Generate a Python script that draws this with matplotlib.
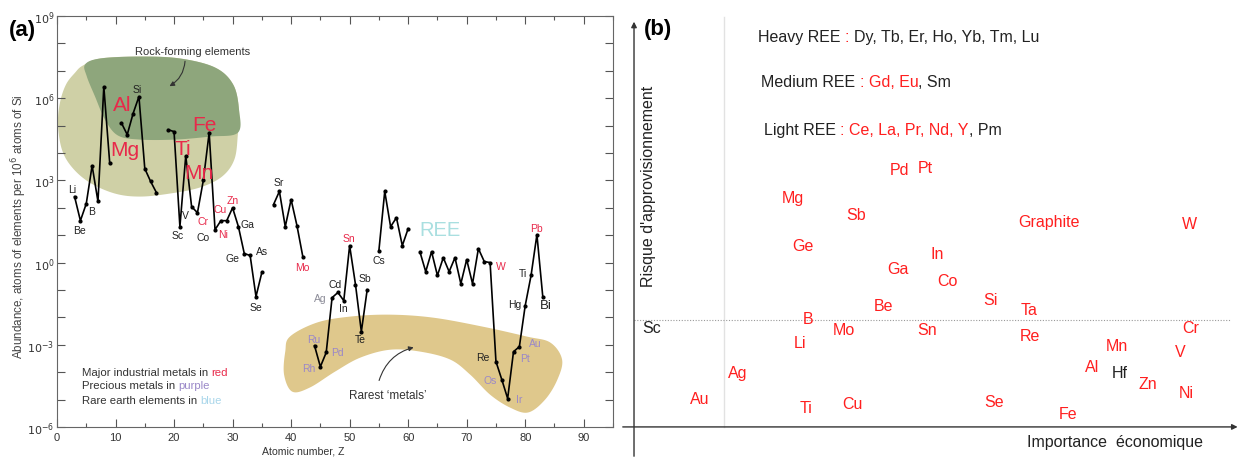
import numpy as np
import matplotlib
matplotlib.use("Agg")
import matplotlib.pyplot as plt
from matplotlib.patches import Polygon
from matplotlib.ticker import FixedLocator, FixedFormatter, NullFormatter

plt.rcParams['font.family'] = ['Liberation Sans', 'DejaVu Sans']

# ---------------- panel (a): crustal abundance vs atomic number ----------------
atomic_number = list(range(3, 84))
# log10 abundance (atoms per 1e6 atoms of Si); None = element not plotted
log_abundance = [
    2.41, 1.53, 2.15, 3.54, 2.23, 6.42, 3.65, None,           # Li .. Ne
    5.10, 4.67, 5.44, 6.06, 3.43, 2.96, 2.55, None,           # Na .. Ar
    4.85, 4.78, 1.31, 3.90, 2.04, 1.82, 3.00, 4.74, 1.20,     # K .. Co
    1.53, 1.53, 2.00, 1.31, 0.33, 0.26, -1.24, -0.36, None,   # Ni .. Kr
    2.12, 2.60, 1.31, 2.30, 1.35, 0.22, None, -3.03, -3.80,   # Rb .. Rh
    -3.28, -1.28, -1.09, -1.39, 0.62, -0.80, -2.52, -0.99,    # Pd .. I
    None, 0.44, 2.60, 1.31, 1.64, 0.62, 1.24, None,           # Xe .. Pm
    0.40, -0.33, 0.40, -0.47, 0.18, -0.33, 0.18, -0.77,       # Sm .. Tm
    0.11, -0.77, 0.51, 0.04, 0.00, -3.61, -4.27, -4.96,       # Yb .. Ir
    -3.25, -3.07, -1.57, -0.47, 1.02, -1.24,                  # Pt .. Bi
]

RED = '#e8294a'
PURPLE = '#9a88c8'
GREY = '#8c8c98'
BLK = '#222222'

# label: (Z, text, colour, dx px, dy px, size)
a_labels = [
    (3, 'Li', BLK, -2, 8, 7.5), (4, 'Be', BLK, -1, -9, 7.5), (5, 'B', BLK, 5, -7, 7.5),
    (14, 'Si', BLK, -2, 8, 7.5), (13, 'Al', RED, -11, 9, 15), (12, 'Mg', RED, -2, -15, 15),
    (26, 'Fe', RED, -5, 8, 15), (22, 'Ti', RED, -3, 7, 15), (25, 'Mn', RED, -4, 8, 15),
    (38, 'Sr', BLK, -1, 9, 7.5), (30, 'Zn', RED, 0, 8, 7.5), (29, 'Cu', RED, -7, 12, 7.5),
    (24, 'Cr', RED, 6, -8, 7.5), (23, 'V', BLK, -6, -8, 7.5), (31, 'Ga', BLK, 9, 3, 7.5),
    (21, 'Sc', BLK, -2, -8, 7.5), (27, 'Co', BLK, -12, -7, 7.5), (28, 'Ni', RED, 2, -13, 7.5),
    (32, 'Ge', BLK, -12, -4, 7.5), (33, 'As', BLK, 12, 4, 7.5), (34, 'Se', BLK, 0, -10, 7.5),
    (42, 'Mo', RED, 0, -10, 7.5), (50, 'Sn', RED, -1, 8, 7.5), (48, 'Cd', BLK, -3, 8, 7.5),
    (47, 'Ag', GREY, -12, 0, 7.5), (49, 'In', BLK, 0, -7, 7.5), (51, 'Sb', BLK, 9, 7, 7.5),
    (52, 'Te', BLK, -1, -7, 7.5), (55, 'Cs', BLK, 0, -9, 7.5), (44, 'Ru', PURPLE, -1, 7, 7.5),
    (45, 'Rh', PURPLE, -12, -1, 7.5), (46, 'Pd', PURPLE, 11, 0, 7.5), (74, 'W', RED, 11, -3, 7.5),
    (81, 'Ti', BLK, -8, 2, 7.5), (80, 'Hg', BLK, -10, 2, 7.5), (83, 'Bi', BLK, 3, -8, 9.5),
    (82, 'Pb', RED, 0, 7, 7.5), (75, 'Re', BLK, -13, 5, 7.5), (76, 'Os', PURPLE, -12, 0, 7.5),
    (78, 'Pt', PURPLE, 11, -6, 7.5), (79, 'Au', PURPLE, 16, 4, 7.5), (77, 'Ir', PURPLE, 12, 0, 7.5),
]

# outlines of the shaded groups (Z, log10 abundance)
rock_light_z = [4.4, 7.4, 14.2, 21.0, 27.0, 30.1, 31.1, 30.9, 30.3, 28.2, 24.4, 19.3,
                14.2, 9.9, 5.6, 2.6, 0.85, 0.17, 0.51, 1.54, 3.08]
rock_light_l = [7.19, 7.45, 7.52, 7.45, 7.12, 6.50, 5.58, 4.67, 3.76, 3.14, 2.74, 2.52,
                2.41, 2.52, 2.92, 3.47, 4.12, 5.04, 5.84, 6.50, 6.93]
rock_dark_z = [4.8, 7.4, 14.2, 21.0, 27.0, 30.1, 31.1, 30.9, 26.2, 20.2, 14.2, 10.4,
               8.2, 6.5, 5.1]
rock_dark_l = [7.23, 7.45, 7.52, 7.45, 7.12, 6.50, 5.58, 4.74, 4.60, 4.49, 4.49, 4.64,
               5.22, 6.06, 6.79]
rare_z = [39.8, 44.4, 50.1, 56.9, 64.3, 72.8, 80.3, 84.3, 86.3, 85.5, 83.4, 80.5, 77.4,
          74.0, 70.6, 67.2, 62.1, 56.9, 51.8, 47.5, 43.2, 40.2, 38.8, 39.0]
rare_l = [-2.70, -2.19, -1.97, -1.90, -2.01, -2.34, -2.70, -2.92, -3.54, -4.27, -5.0,
          -5.47, -5.29, -4.82, -4.09, -3.54, -3.25, -3.18, -3.47, -3.98, -4.56, -4.71,
          -4.09, -3.25]

# ---------------- panel (b): criticality matrix ----------------
b_elements = ['Pd', 'Pt', 'Mg', 'Sb', 'Graphite', 'W', 'Ge', 'In', 'Ga', 'Co', 'Be', 'Si',
              'Ta', 'B', 'Sc', 'Mo', 'Sn', 'Re', 'Cr', 'Li', 'Mn', 'V', 'Ag', 'Al', 'Hf',
              'Zn', 'Ni', 'Au', 'Ti', 'Cu', 'Se', 'Fe']
b_importance = [4.45, 4.88, 2.67, 3.72, 6.96, 9.31, 2.84, 5.08, 4.43, 5.25, 4.18, 5.97,
                6.63, 2.92, 0.30, 3.52, 4.92, 6.64, 9.33, 2.79, 8.10, 9.16, 1.74, 7.68,
                8.15, 8.62, 9.26, 1.11, 2.89, 3.66, 6.04, 7.28]
b_risk = [6.33, 6.38, 5.64, 5.22, 5.05, 5.00, 4.48, 4.26, 3.89, 3.60, 3.00, 3.15,
          2.88, 2.68, 2.44, 2.39, 2.39, 2.24, 2.46, 2.07, 2.00, 1.85, 1.35, 1.48,
          1.33, 1.08, 0.84, 0.71, 0.47, 0.57, 0.62, 0.34]
b_black = ['Sc', 'Hf']
risk_threshold = 2.64
importance_threshold = 1.51

RED_B = '#ff1f1f'


def smooth_closed(xs, ys, n=14):
    # closed Catmull-Rom outline through the given vertices
    p = np.column_stack([xs, ys])
    N = len(p)
    t = np.linspace(0, 1, n, endpoint=False)[:, None]
    out = []
    for i in range(N):
        p0, p1, p2, p3 = p[i - 1], p[i], p[(i + 1) % N], p[(i + 2) % N]
        out.append(0.5 * (2 * p1 + (-p0 + p2) * t + (2 * p0 - 5 * p1 + 4 * p2 - p3) * t ** 2
                          + (-p0 + 3 * p1 - 3 * p2 + p3) * t ** 3))
    out = np.vstack(out)
    out[:, 1] = 10 ** out[:, 1]
    return out


def color_text(ax, x, y, parts, fontsize):
    t = ax.text(x, y, parts[0][0], color=parts[0][1], fontsize=fontsize,
                ha='left', va='center')
    for s, c in parts[1:]:
        t = ax.annotate(s, xy=(1, 0), xycoords=t, color=c, fontsize=fontsize,
                        ha='left', va='bottom')
    return t


fig = plt.figure(figsize=(12.41, 4.6), dpi=100)

# ---- (a)
ax = fig.add_axes([57 / 1241, 32 / 460, 556 / 1241, 411 / 460])
ax.set_yscale('log')
ax.set_xlim(0, 95)
ax.set_ylim(1e-6, 1e9)

ax.add_patch(Polygon(smooth_closed(rock_light_z, rock_light_l), closed=True,
                     facecolor='#cfd0a6', edgecolor='none', zorder=1))
ax.add_patch(Polygon(smooth_closed(rock_dark_z, rock_dark_l), closed=True,
                     facecolor='#8ea67c', edgecolor='none', zorder=1))
ax.add_patch(Polygon(smooth_closed(rare_z, rare_l), closed=True,
                     facecolor='#dfc88c', edgecolor='none', zorder=1))

vals = np.array([np.nan if v is None else 10 ** v for v in log_abundance])
ax.plot(atomic_number, vals, color='black', lw=1.2, marker='o', ms=2, zorder=3)

for z, name, col, dx, dy, fs in a_labels:
    v = vals[atomic_number.index(z)]
    ax.annotate(name, xy=(z, v), xytext=(dx, dy), textcoords='offset pixels',
                ha='center', va='center', color=col, fontsize=fs, zorder=4)

ax.text(65.5, 10 ** 1.2, 'REE', color='#a9dfe0', fontsize=14.5, ha='center', va='center')
ax.text(23.1, 10 ** 7.74, 'Rock-forming elements', fontsize=8, color='#333',
        ha='center', va='center')
ax.annotate('', xy=(18.8, 10 ** 6.39), xytext=(21.9, 10 ** 7.45),
            arrowprops=dict(arrowstyle='-|>', color='#333', lw=0.8, mutation_scale=7,
                            connectionstyle='arc3,rad=-0.3'))
ax.text(56.6, 10 ** -4.85, 'Rarest \u2018metals\u2019', fontsize=8.5, color='#333',
        ha='center', va='center')
ax.annotate('', xy=(61.4, 10 ** -3.07), xytext=(54.9, 10 ** -4.4),
            arrowprops=dict(arrowstyle='-|>', color='#333', lw=0.8, mutation_scale=7,
                            connectionstyle='arc3,rad=-0.3'))

color_text(ax, 4.27, 10 ** -3.98, [('Major industrial metals in ', '#333'), ('red', RED)], 8.2)
color_text(ax, 4.27, 10 ** -4.48, [('Precious metals in ', '#333'), ('purple', PURPLE)], 8.2)
color_text(ax, 4.27, 10 ** -5.0, [('Rare earth elements in ', '#333'), ('blue', '#a9d6ea')], 8.2)

ax.xaxis.set_major_locator(FixedLocator(range(0, 100, 10)))
ax.xaxis.set_minor_locator(FixedLocator(range(5, 100, 10)))
major_y = [10.0 ** e for e in range(-6, 10, 3)]
ax.yaxis.set_major_locator(FixedLocator(major_y))
ax.yaxis.set_major_formatter(FixedFormatter([r'$10^{%d}$' % e for e in range(-6, 10, 3)]))
ax.yaxis.set_minor_locator(FixedLocator([10.0 ** e for e in range(-6, 10)]))
ax.yaxis.set_minor_formatter(NullFormatter())
ax.tick_params(which='both', direction='in', top=True, right=True, colors='#555',
               labelcolor='#333', labelsize=8, width=0.8)
ax.tick_params(axis='y', which='major', pad=2)
ax.tick_params(axis='x', which='major', length=6)
ax.tick_params(axis='x', which='minor', length=3)
ax.tick_params(axis='y', which='both', length=6)
for s in ax.spines.values():
    s.set_color('#666')
    s.set_linewidth(0.8)
ax.set_xlabel('Atomic number, Z', fontsize=7.6, color='#333')
ax.xaxis.set_label_coords(0.442, -0.046)
ax.set_ylabel('Abundance, atoms of elements per 10$^6$ atoms of Si', fontsize=8.4, color='#444')
ax.yaxis.set_label_coords(-0.05, 0.489)

fig.text(22 / 1241, 1 - 31 / 460, '(a)', fontsize=16, fontweight='bold', ha='center',
         va='center')

# ---- (b)
ax2 = fig.add_axes([620 / 1241, 0, 621 / 1241, 1])
ax2.set_xlim(-0.235, 10.18)
ax2.set_ylim(-0.79, 10.54)
ax2.axis('off')

ax2.annotate('', xy=(0, 10.05), xytext=(0, -0.79),
             arrowprops=dict(arrowstyle='-|>', color='#333', lw=1, mutation_scale=8))
ax2.annotate('', xy=(10.17, 0), xytext=(-0.235, 0),
             arrowprops=dict(arrowstyle='-|>', color='#333', lw=1, mutation_scale=8))
ax2.plot([importance_threshold, importance_threshold], [0, 10.1], color='#e2e2e2', lw=1)
ax2.plot([0, 10.0], [risk_threshold, risk_threshold], color='#9a9a9a', lw=0.8,
         linestyle=(0, (1, 1.5)))

for name, xi, yi in zip(b_elements, b_importance, b_risk):
    ax2.text(xi, yi, name, color=BLK if name in b_black else RED_B, fontsize=11.5,
             ha='center', va='center')

color_text(ax2, 2.08, 9.61, [('Heavy REE ', BLK), (': ', RED_B),
                             ('Dy, Tb, Er, Ho, Yb, Tm, Lu', BLK)], 11.5)
color_text(ax2, 2.13, 8.52, [('Medium REE ', BLK), (': Gd, Eu', RED_B), (', Sm', BLK)], 11.5)
color_text(ax2, 2.18, 7.32, [('Light REE ', BLK), (': Ce, La, Pr, Nd, Y', RED_B),
                             (', Pm', BLK)], 11.5)

ax2.text(8.07, -0.37, 'Importance  \u00e9conomique', fontsize=11.5, color=BLK,
         ha='center', va='center')
ax2.text(0.235, 5.96, "Risque d'approvisionnement", fontsize=11.5, color=BLK,
         rotation=90, ha='center', va='center')

fig.text(658 / 1241, 1 - 30 / 460, '(b)', fontsize=16, fontweight='bold', ha='center',
         va='center')

fig.savefig('out.png', dpi=100)
